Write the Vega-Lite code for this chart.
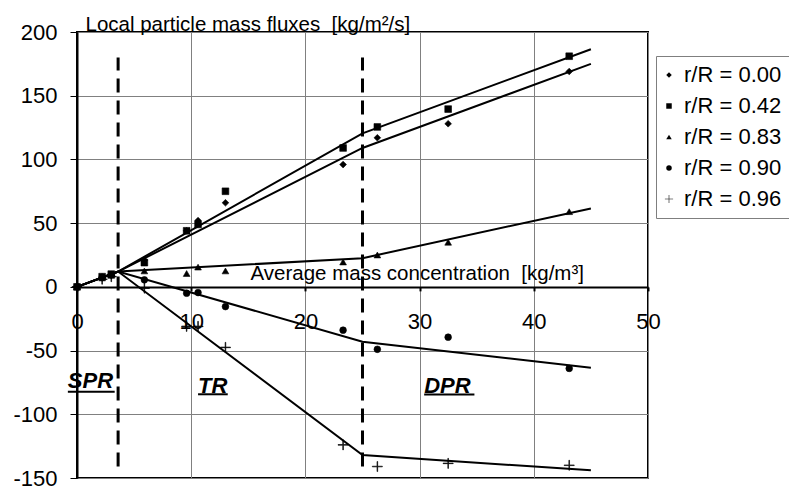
{
  "$schema": "https://vega.github.io/schema/vega-lite/v6.json",
  "width": 571,
  "height": 446,
  "autosize": {"type": "none"},
  "padding": {"left": 77, "top": 32, "right": 141, "bottom": 8},
  "background": "white",
  "config": {
    "font": "Liberation Sans",
    "view": {"stroke": "black", "strokeWidth": 2},
    "axis": {"labelColor": "black", "titleColor": "black", "titleFontWeight": "normal", "labelFlush": false, "labelOverlap": false, "gridColor": "#808080", "gridWidth": 1, "gridOpacity": 1, "tickColor": "black", "domainColor": "black"}
  },
  "datasets": {
    "points": [
      {"series": "r/R = 0.00", "x": 0, "y": 0}, {"series": "r/R = 0.00", "x": 2.2, "y": 7}, {"series": "r/R = 0.00", "x": 3.0, "y": 9}, {"series": "r/R = 0.00", "x": 5.9, "y": 21}, {"series": "r/R = 0.00", "x": 9.6, "y": 44}, {"series": "r/R = 0.00", "x": 10.6, "y": 52}, {"series": "r/R = 0.00", "x": 13.0, "y": 66}, {"series": "r/R = 0.00", "x": 23.3, "y": 96}, {"series": "r/R = 0.00", "x": 26.3, "y": 117}, {"series": "r/R = 0.00", "x": 32.5, "y": 128}, {"series": "r/R = 0.00", "x": 43.1, "y": 169},
      {"series": "r/R = 0.42", "x": 0, "y": 0}, {"series": "r/R = 0.42", "x": 2.2, "y": 8}, {"series": "r/R = 0.42", "x": 3.0, "y": 10}, {"series": "r/R = 0.42", "x": 5.9, "y": 19}, {"series": "r/R = 0.42", "x": 9.6, "y": 44}, {"series": "r/R = 0.42", "x": 10.6, "y": 49}, {"series": "r/R = 0.42", "x": 13.0, "y": 75}, {"series": "r/R = 0.42", "x": 23.3, "y": 109}, {"series": "r/R = 0.42", "x": 26.3, "y": 125.5}, {"series": "r/R = 0.42", "x": 32.5, "y": 139.5}, {"series": "r/R = 0.42", "x": 43.1, "y": 181},
      {"series": "r/R = 0.83", "x": 0, "y": 0}, {"series": "r/R = 0.83", "x": 2.2, "y": 7}, {"series": "r/R = 0.83", "x": 3.0, "y": 9}, {"series": "r/R = 0.83", "x": 5.9, "y": 12.5}, {"series": "r/R = 0.83", "x": 9.6, "y": 10.5}, {"series": "r/R = 0.83", "x": 10.6, "y": 15.5}, {"series": "r/R = 0.83", "x": 13.0, "y": 12.5}, {"series": "r/R = 0.83", "x": 23.3, "y": 19.5}, {"series": "r/R = 0.83", "x": 26.3, "y": 25}, {"series": "r/R = 0.83", "x": 32.5, "y": 35}, {"series": "r/R = 0.83", "x": 43.1, "y": 59},
      {"series": "r/R = 0.90", "x": 0, "y": 0}, {"series": "r/R = 0.90", "x": 2.2, "y": 7.5}, {"series": "r/R = 0.90", "x": 3.0, "y": 9.5}, {"series": "r/R = 0.90", "x": 5.9, "y": 5.5}, {"series": "r/R = 0.90", "x": 9.6, "y": -5}, {"series": "r/R = 0.90", "x": 10.6, "y": -4.5}, {"series": "r/R = 0.90", "x": 13.0, "y": -15.5}, {"series": "r/R = 0.90", "x": 23.3, "y": -34}, {"series": "r/R = 0.90", "x": 26.3, "y": -49}, {"series": "r/R = 0.90", "x": 32.5, "y": -39.5}, {"series": "r/R = 0.90", "x": 43.1, "y": -64},
      {"series": "r/R = 0.96", "x": 0, "y": 0}, {"series": "r/R = 0.96", "x": 2.2, "y": 6}, {"series": "r/R = 0.96", "x": 3.0, "y": 8}, {"series": "r/R = 0.96", "x": 5.9, "y": -1}, {"series": "r/R = 0.96", "x": 9.6, "y": -31}, {"series": "r/R = 0.96", "x": 10.6, "y": -31}, {"series": "r/R = 0.96", "x": 13.0, "y": -47.5}, {"series": "r/R = 0.96", "x": 23.3, "y": -124}, {"series": "r/R = 0.96", "x": 26.3, "y": -141}, {"series": "r/R = 0.96", "x": 32.5, "y": -138.5}, {"series": "r/R = 0.96", "x": 43.1, "y": -140}
    ],
    "fits": [
      {"series": "r/R = 0.00", "x": 0, "y": 0}, {"series": "r/R = 0.00", "x": 3.6, "y": 12}, {"series": "r/R = 0.00", "x": 25, "y": 109}, {"series": "r/R = 0.00", "x": 45, "y": 175},
      {"series": "r/R = 0.42", "x": 0, "y": 0}, {"series": "r/R = 0.42", "x": 3.6, "y": 12}, {"series": "r/R = 0.42", "x": 25, "y": 120.5}, {"series": "r/R = 0.42", "x": 45, "y": 186.5},
      {"series": "r/R = 0.83", "x": 0, "y": 0}, {"series": "r/R = 0.83", "x": 3.6, "y": 12}, {"series": "r/R = 0.83", "x": 25, "y": 22.5}, {"series": "r/R = 0.83", "x": 45, "y": 61.5},
      {"series": "r/R = 0.90", "x": 0, "y": 0}, {"series": "r/R = 0.90", "x": 3.6, "y": 12}, {"series": "r/R = 0.90", "x": 25, "y": -43}, {"series": "r/R = 0.90", "x": 45, "y": -63.5},
      {"series": "r/R = 0.96", "x": 0, "y": 0}, {"series": "r/R = 0.96", "x": 3.6, "y": 12}, {"series": "r/R = 0.96", "x": 25, "y": -132}, {"series": "r/R = 0.96", "x": 45, "y": -144}
    ],
    "bounds": [
      {"x": 3.6, "y": -141, "y2": 180},
      {"x": 25, "y": -141, "y2": 180}
    ],
    "regions": [
      {"label": "SPR", "tx": -0.8, "ty": -79.3, "ux1": -0.8, "ux2": 3.3, "uy": -82.4},
      {"label": "TR", "tx": 10.6, "ty": -83.2, "ux1": 10.6, "ux2": 13.2, "uy": -84.3},
      {"label": "DPR", "tx": 30.4, "ty": -83.2, "ux1": 30.4, "ux2": 34.8, "uy": -84.5}
    ]
  },
  "layer": [
    {
      "data": {"name": "fits"},
      "mark": {"type": "line", "color": "black", "strokeWidth": 2},
      "encoding": {
        "x": {
          "field": "x", "type": "quantitative",
          "scale": {"domain": [0, 50], "nice": false, "zero": false},
          "axis": {
            "title": "Average mass concentration \u00a0[kg/m³]",
            "values": [0, 10, 20, 30, 40, 50],
            "labelExpr": "datum.value + ''",
            "offset": -191.1,
            "grid": true,
            "domainWidth": 2, "tickSize": 4, "tickWidth": 2,
            "labelFontSize": 22, "labelPadding": 21,
            "titleFontSize": 20.5, "titleX": 173, "titleY": -7, "titleAlign": "left", "titleBaseline": "alphabetic", "titleAnchor": null
          }
        },
        "y": {
          "field": "y", "type": "quantitative",
          "scale": {"domain": [-150, 200], "nice": false, "zero": false},
          "axis": {
            "title": "Local particle mass fluxes \u00a0[kg/m²/s]",
            "values": [-150, -100, -50, 0, 50, 100, 150, 200],
            "labelExpr": "datum.value + ''",
            "grid": true,
            "domainWidth": 2, "tickSize": 7, "tickWidth": 1,
            "labelFontSize": 22, "labelPadding": 13,
            "titleFontSize": 20.5, "titleAngle": 0, "titleX": 8, "titleY": -2, "titleAlign": "left", "titleBaseline": "alphabetic", "titleAnchor": null
          }
        },
        "detail": {"field": "series"}
      }
    },
    {
      "data": {"name": "bounds"},
      "mark": {"type": "rule", "color": "black", "strokeWidth": 3, "strokeDash": [14, 8]},
      "encoding": {
        "x": {"field": "x", "type": "quantitative"},
        "y": {"field": "y", "type": "quantitative"},
        "y2": {"field": "y2"}
      }
    },
    {
      "data": {"name": "regions"},
      "mark": {"type": "rule", "color": "black", "strokeWidth": 2},
      "encoding": {
        "x": {"field": "ux1", "type": "quantitative"},
        "x2": {"field": "ux2"},
        "y": {"field": "uy", "type": "quantitative"}
      }
    },
    {
      "data": {"name": "regions"},
      "mark": {"type": "text", "font": "Liberation Sans", "fontSize": 22, "fontWeight": "bold", "fontStyle": "italic", "align": "left", "baseline": "alphabetic", "color": "black"},
      "encoding": {
        "x": {"field": "tx", "type": "quantitative"},
        "y": {"field": "ty", "type": "quantitative"},
        "text": {"field": "label"}
      }
    },
    {
      "data": {"name": "points"},
      "mark": {"type": "point", "filled": true, "color": "black", "stroke": "black", "strokeWidth": 0.6, "size": 45, "opacity": 1},
      "encoding": {
        "x": {"field": "x", "type": "quantitative"},
        "y": {"field": "y", "type": "quantitative"},
        "shape": {
          "field": "series", "type": "nominal",
          "scale": {"domain": ["r/R = 0.00", "r/R = 0.42", "r/R = 0.83", "r/R = 0.90", "r/R = 0.96"], "range": ["diamond", "square", "triangle-up", "circle", "M-1.5,-0.1L-0.1,-0.1L-0.1,-1.5L0.1,-1.5L0.1,-0.1L1.5,-0.1L1.5,0.1L0.1,0.1L0.1,1.5L-0.1,1.5L-0.1,0.1L-1.5,0.1Z"]},
          "legend": {
            "title": null, "orient": "none", "legendX": 579, "legendY": 24,
            "strokeColor": "#7f7f7f", "padding": 8, "fillColor": "white",
            "labelFontSize": 22, "labelFont": "Liberation Sans", "labelColor": "black", "labelOffset": 4,
            "symbolOffset": -6,
            "symbolSize": 30, "symbolFillColor": "black", "symbolStrokeColor": "black", "symbolStrokeWidth": 0.6, "symbolOpacity": 1,
            "rowPadding": 9,
            "encode": {"symbols": {"update": {"stroke": {"value": "black"}, "strokeWidth": {"value": 0.6}, "fill": {"value": "black"}, "opacity": {"value": 1}}}}
          }
        }
      }
    }
  ]
}
